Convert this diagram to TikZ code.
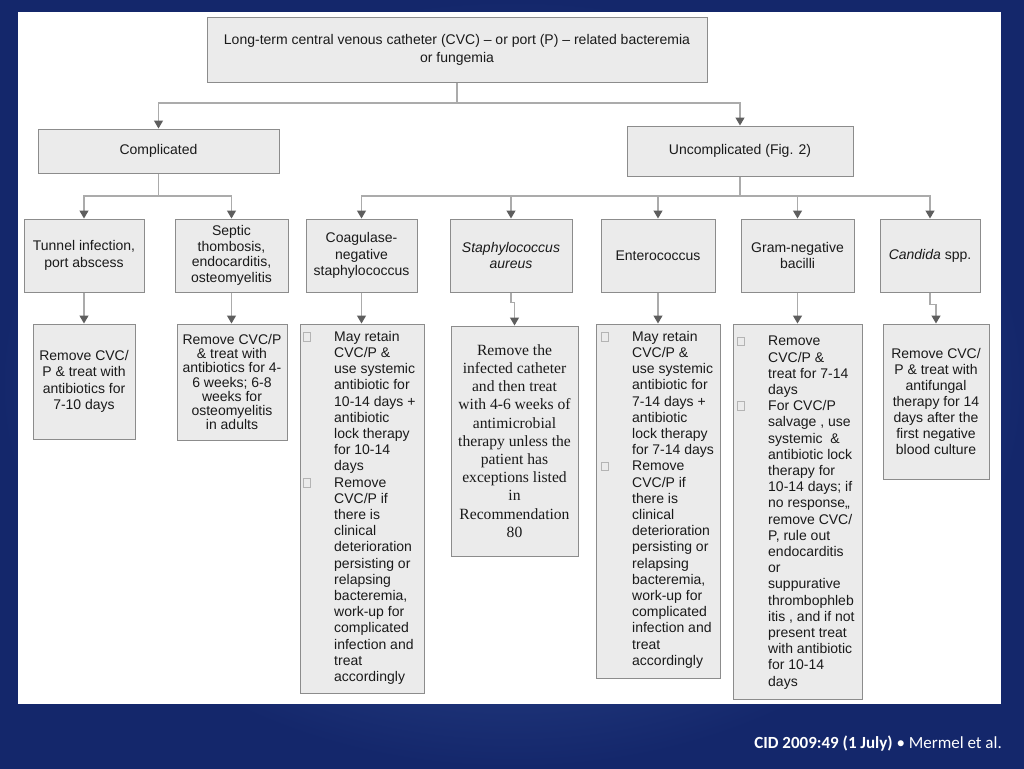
\documentclass[tikz,border=0pt]{standalone}
\usepackage{fontspec}
\setmainfont{Liberation Sans}
\newfontfamily\serifface{Liberation Serif}
\newfontfamily\footface{Carlito}
\usetikzlibrary{arrows.meta,calc}
\definecolor{bgin}{HTML}{4262A8}
\definecolor{bgout}{HTML}{14276B}
\definecolor{boxc}{HTML}{EBEBEB}
\definecolor{bordc}{HTML}{8C8C8C}
\definecolor{linec}{HTML}{ABABAB}
\definecolor{tipc}{HTML}{5E5E5E}
\definecolor{txtc}{HTML}{1A1A1A}
\definecolor{bxc}{HTML}{B4B4B4}
\newcommand\chk{\makebox[31pt][l]{\raisebox{0.5pt}{\color{bxc}\setlength{\fboxsep}{0pt}\setlength{\fboxrule}{0.7pt}\fbox{\rule{0pt}{8pt}\hspace{6.5pt}}}}}
\newcommand\ind{\hspace*{31pt}}
\tikzset{
  fbox/.style={rectangle, draw=bordc, fill=boxc, line width=1pt, inner sep=0pt,
    align=center, text=txtc, font=\fontsize{14}{16.5}\selectfont},
  conn/.style={draw=linec, line width=1.3pt},
  arr/.style={draw=linec, line width=1.3pt, -{Triangle[width=9pt,length=8pt,color=tipc]}},
  listtxt/.style={anchor=north west, inner sep=0pt, text=txtc, align=left,
    font=\fontsize{14}{16.2}\selectfont}
}
\begin{document}
\begin{tikzpicture}[x=1pt,y=-1pt]
\useasboundingbox (0,0) rectangle (1024,768);
\shade[inner color=bgin, outer color=bgout] (0,0) rectangle (1024,768);
\fill[white] (18,12) rectangle (1001,704);

% level 0
\node[fbox, minimum width=500pt, minimum height=64pt, font=\fontsize{14}{18}\selectfont] (top) at (457,50)
  {Long-term central venous catheter (CVC) -- or port (P) -- related bacteremia\\or fungemia};
% level 1
\node[fbox, minimum width=241pt, minimum height=44pt] (compl) at (158.5,151) {Complicated};
\node[fbox, minimum width=226pt, minimum height=50pt] (uncompl) at (740,151) {Uncomplicated (Fig. 2)};
% level 2
\node[fbox, minimum width=120pt, minimum height=73pt, font=\fontsize{14}{17}\selectfont] (tunnel) at (84,255.5) {Tunnel infection,\\port abscess};
\node[fbox, minimum width=113pt, minimum height=73pt, font=\fontsize{14}{15.7}\selectfont] (septic) at (231.5,255.5) {Septic\\thombosis,\\endocarditis,\\osteomyelitis};
\node[fbox, minimum width=111pt, minimum height=73pt] (cons) at (361.5,255.5) {Coagulase-\\negative\\staphylococcus};
\node[fbox, minimum width=122pt, minimum height=73pt] (sa) at (511,255.5) {\textit{Staphylococcus}\\\textit{aureus}};
\node[fbox, minimum width=114pt, minimum height=73pt] (ent) at (658,255.5) {Enterococcus};
\node[fbox, minimum width=113pt, minimum height=73pt] (gnb) at (797.5,255.5) {Gram-negative\\bacilli};
\node[fbox, minimum width=100pt, minimum height=73pt] (cand) at (930,255.5) {\textit{Candida} spp.};
% level 3
\node[fbox, minimum width=102pt, minimum height=115pt] (tunnelT) at (84,381.5) {Remove CVC/\\P \& treat with\\antibiotics for\\7-10 days};
\node[fbox, minimum width=110pt, minimum height=116pt, font=\fontsize{14}{14.3}\selectfont] (septicT) at (232,382) {Remove CVC/P\\\& treat with\\antibiotics for 4-\\6 weeks; 6-8\\weeks for\\osteomyelitis\\in adults};
\node[fbox, minimum width=124pt, minimum height=369pt] (consT) at (362,508.5) {};
\node[fbox, minimum width=127pt, minimum height=230pt, font=\serifface\fontsize{15.6}{18.2}\selectfont] (saT) at (514.5,441) {Remove the\\infected catheter\\and then treat\\with 4-6 weeks of\\antimicrobial\\therapy unless the\\patient has\\exceptions listed\\in\\Recommendation\\80};
\node[fbox, minimum width=124pt, minimum height=354pt] (entT) at (658,501) {};
\node[fbox, minimum width=129pt, minimum height=375pt] (gnbT) at (797.5,511.5) {};
\node[fbox, minimum width=106pt, minimum height=155pt, font=\fontsize{14}{16.1}\selectfont] (candT) at (936,401.5) {Remove CVC/\\P \& treat with\\antifungal\\therapy for 14\\days after the\\first negative\\blood culture};

% bullet texts
\node[listtxt] (consTx) at (303,331) {\chk May retain\\\ind CVC/P \&\\\ind use systemic\\\ind antibiotic for\\\ind 10-14 days +\\\ind antibiotic\\\ind lock therapy\\\ind for 10-14\\\ind days\\
\chk Remove\\\ind CVC/P if\\\ind there is\\\ind clinical\\\ind deterioration\\\ind persisting or\\\ind relapsing\\\ind bacteremia,\\\ind work-up for\\\ind complicated\\\ind infection and\\\ind treat\\\ind accordingly};
\node[listtxt] (entTx) at (601,331) {\chk May retain\\\ind CVC/P \&\\\ind use systemic\\\ind antibiotic for\\\ind 7-14 days +\\\ind antibiotic\\\ind lock therapy\\\ind for 7-14 days\\
\chk Remove\\\ind CVC/P if\\\ind there is\\\ind clinical\\\ind deterioration\\\ind persisting or\\\ind relapsing\\\ind bacteremia,\\\ind work-up for\\\ind complicated\\\ind infection and\\\ind treat\\\ind accordingly};
\node[listtxt] (gnbTx) at (737,336) {\chk Remove\\\ind CVC/P \&\\\ind treat for 7-14\\\ind days\\
\chk For CVC/P\\\ind salvage , use\\\ind systemic \ \&\\\ind antibiotic lock\\\ind therapy for\\\ind 10-14 days; if\\\ind no response,,\\\ind remove CVC/\\\ind P, rule out\\\ind endocarditis\\\ind or\\\ind suppurative\\\ind thrombophleb\\\ind itis , and if not\\\ind present treat\\\ind with antibiotic\\\ind for 10-14\\\ind days};

% connectors
\coordinate (h1) at (0,103);
\coordinate (h2) at (0,196);
\draw[conn] (top.south) -- (top.south |- h1);
\draw[arr] (top.south |- h1) -| (compl.north);
\draw[arr] (top.south |- h1) -| (uncompl.north);
\draw[conn] (compl.south) -- (compl.south |- h2);
\draw[arr] (compl.south |- h2) -| (tunnel.north);
\draw[arr] (compl.south |- h2) -| (septic.north);
\draw[conn] (uncompl.south) -- (uncompl.south |- h2);
\draw[arr] (uncompl.south |- h2) -| (cons.north);
\draw[arr] (uncompl.south |- h2) -| (sa.north);
\draw[arr] (uncompl.south |- h2) -| (ent.north);
\draw[arr] (uncompl.south |- h2) -| (gnb.north);
\draw[arr] (uncompl.south |- h2) -| (cand.north);

\draw[arr] (tunnel.south) -- (tunnel.south |- tunnelT.north);
\draw[arr] (septic.south) -- (septic.south |- septicT.north);
\draw[arr] (cons.south) -- (cons.south |- consT.north);
\draw[arr] (sa.south) -- ++(0,10) -| (saT.north);
\draw[arr] (ent.south) -- (ent.south |- entT.north);
\draw[arr] (gnb.south) -- (gnb.south |- gnbT.north);
\draw[arr] (cand.south) -- ++(0,12) -| (candT.north);

% footer
\node[anchor=base east, inner sep=0pt, text=white, font=\footface\fontsize{17}{20}\selectfont] (foot) at (1002,748)
  {\textbf{CID 2009:49 (1 July)} • Mermel et al.};
\end{tikzpicture}
\end{document}
